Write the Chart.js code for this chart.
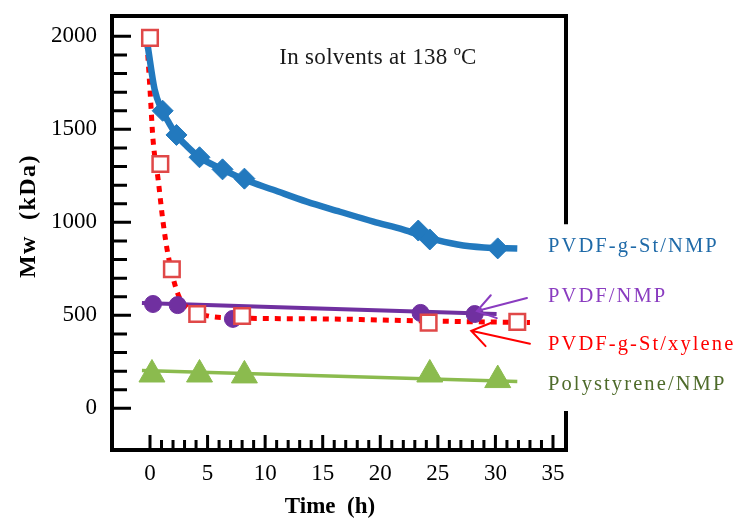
<!DOCTYPE html>
<html>
<head>
<meta charset="utf-8">
<script src="https://cdn.jsdelivr.net/npm/chart.js@4"></script>
<style>
  html, body { margin: 0; padding: 0; background: #fff; }
  #wrap { width: 734px; height: 519px; }
</style>
</head>
<body>
<div id="wrap"><canvas id="c"></canvas></div>
<script>
// ---- data -------------------------------------------------------------------

const timeTicks = [0, 5, 10, 15, 20, 25, 30, 35];
const mwTicks   = [0, 500, 1000, 1500, 2000];

// PVDF-g-St / NMP (diamonds + solid trend curve)
const stNmpTime    = [1.1, 2.3, 4.3, 6.3, 8.2, 23.3, 24.3, 30.2];
const stNmpMw      = [1600, 1470, 1350, 1285, 1235, 956, 908, 860];
const stNmpFitTime = [-0.2, 0.4, 1.0, 1.6, 2.3, 3.2, 4.3, 6.3, 8.2, 10.7, 13.6, 16.5, 19.4, 22.0, 24.3, 26.7, 29.0, 31.9];
const stNmpFitMw   = [1950, 1715, 1607, 1540, 1470, 1410, 1350, 1285, 1230, 1175, 1111, 1057, 1004, 961, 915, 881, 865, 860];

// PVDF-g-St / xylene (open squares + dotted trend curve)
const stXylTime    = [0, 0.9, 1.9, 4.1, 8.0, 24.2, 31.9];
const stXylMw      = [1992, 1314, 748, 507, 497, 461, 465];
const stXylFitTime = [-0.26, 0, 0.26, 0.7, 1.13, 1.56, 2.43, 3.47, 5.0, 8.0, 15.0, 23.7, 33.0];
const stXylFitMw   = [1965, 1714, 1447, 1234, 1004, 828, 614, 530, 497, 485, 481, 470, 461];

// PVDF / NMP (circles + linear trend)
const pvdfTime    = [0.26, 2.4, 7.2, 23.5, 28.2];
const pvdfMw      = [561, 555, 481, 513, 507];
const pvdfFitTime = [-0.7, 30.1];
const pvdfFitMw   = [566, 507];

// Polystyrene / NMP (triangles + linear trend)
const psTime    = [0.17, 4.3, 8.2, 24.3, 30.2];
const psMw      = [182, 182, 177, 182, 152];
const psFitTime = [-0.7, 31.9];
const psFitMw   = [203, 144];

const legendLabels = ['PVDF-g-St/NMP', 'PVDF/NMP', 'PVDF-g-St/xylene', 'Polystyrene/NMP'];
const note = 'In solvents at 138 ºC';

// ---- helpers ----------------------------------------------------------------

const SERIF = "'Liberation Serif', 'Times New Roman', serif";
const BLUE = '#2279be', PURPLE = '#7030a0', RED = '#ff0000', GREEN = '#8bbb4e';

function pts(xs, ys) {
  return xs.map((t, i) => ({ x: t, y: ys[i] }));
}

function drawArrow(ctx, x0, y0, x1, y1, color) {
  const ang = Math.atan2(y1 - y0, x1 - x0);
  const head = 21, spread = 0.6;
  ctx.strokeStyle = color;
  ctx.lineWidth = 2;
  ctx.lineCap = 'round';
  ctx.beginPath();
  ctx.moveTo(x0, y0); ctx.lineTo(x1, y1);
  ctx.moveTo(x1 - head * Math.cos(ang - spread), y1 - head * Math.sin(ang - spread));
  ctx.lineTo(x1, y1);
  ctx.lineTo(x1 - head * Math.cos(ang + spread), y1 - head * Math.sin(ang + spread));
  ctx.stroke();
}

// ---- frame, ticks and text --------------------------------------------------

const framePlugin = {
  id: 'frame',
  beforeDatasetsDraw(chart) {
    const { ctx, chartArea: a, scales: { x, y } } = chart;
    ctx.save();
    ctx.strokeStyle = '#000';
    ctx.lineCap = 'square';
    ctx.lineWidth = 4;
    ctx.beginPath();
    ctx.moveTo(a.right, y.getPixelForValue(1000));
    ctx.lineTo(a.right, a.top);
    ctx.lineTo(a.left, a.top);
    ctx.lineTo(a.left, a.bottom);
    ctx.lineTo(a.right, a.bottom);
    ctx.lineTo(a.right, y.getPixelForValue(-25));
    ctx.stroke();

    ctx.lineWidth = 3;
    ctx.lineCap = 'butt';
    ctx.beginPath();
    for (let v = 0; v <= 2000; v += 100) {
      const py = y.getPixelForValue(v);
      ctx.moveTo(a.left, py);
      ctx.lineTo(a.left + (v % 500 === 0 ? 19 : 15), py);
    }
    for (let t = 0; t <= 35; t++) {
      const px = x.getPixelForValue(t);
      ctx.moveTo(px, a.bottom);
      ctx.lineTo(px, a.bottom - (t % 5 === 0 ? 15 : 10));
    }
    ctx.stroke();

    ctx.fillStyle = '#000';
    ctx.font = '23px ' + SERIF;
    ctx.textAlign = 'right';
    ctx.textBaseline = 'middle';
    mwTicks.forEach(v => ctx.fillText(String(v), 97, y.getPixelForValue(v)));
    ctx.textAlign = 'center';
    timeTicks.forEach(t => ctx.fillText(String(t), x.getPixelForValue(t), 474));

    ctx.font = 'bold 23px ' + SERIF;
    ctx.fillText('Time  (h)', 330, 507);
    ctx.save();
    ctx.translate(29, 216);
    ctx.rotate(-Math.PI / 2);
    ctx.font = 'bold 24px ' + SERIF;
    ctx.letterSpacing = '1.5px';
    ctx.fillText('Mw  (kDa)', 0, 0);
    ctx.restore();
    ctx.restore();
  },
  afterDatasetsDraw(chart) {
    const { ctx, scales: { x, y } } = chart;
    ctx.save();
    drawArrow(ctx, x.getPixelForValue(32.74), y.getPixelForValue(593),
                   x.getPixelForValue(28.4),  y.getPixelForValue(523), '#8a3cc0');
    drawArrow(ctx, x.getPixelForValue(33.0),  y.getPixelForValue(347),
                   x.getPixelForValue(27.9),  y.getPixelForValue(417), RED);

    ctx.textBaseline = 'middle';
    ctx.textAlign = 'center';
    ctx.fillStyle = '#1a1a1a';
    ctx.font = '23px ' + SERIF;
    ctx.letterSpacing = '0.3px';
    ctx.fillText(note, 378, 58);

    const colors = ['#1f6aa8', '#8a3cc0', RED, '#4e6b2a'];
    const rows = [247, 297, 345, 385];
    ctx.textAlign = 'left';
    ctx.font = '20.5px ' + SERIF;
    ctx.letterSpacing = '2.1px';
    legendLabels.forEach((s, i) => {
      ctx.fillStyle = colors[i];
      ctx.fillText(s, 548, rows[i]);
    });
    ctx.restore();
  }
};

// ---- chart ------------------------------------------------------------------

new Chart(document.getElementById('c'), {
  type: 'scatter',
  data: {
    datasets: [
      { data: pts(stNmpTime, stNmpMw), pointStyle: 'rectRot', radius: 10.5,
        backgroundColor: BLUE, borderColor: BLUE, borderWidth: 1, order: 0 },
      { data: pts(stXylTime, stXylMw), pointStyle: 'rect', radius: 11,
        backgroundColor: '#fff', borderColor: '#e04848', borderWidth: 2.5, order: 0 },
      { data: pts(pvdfTime, pvdfMw), pointStyle: 'circle', radius: 8.5,
        backgroundColor: PURPLE, borderColor: PURPLE, borderWidth: 1, order: 0 },
      { data: pts(psTime, psMw), pointStyle: 'triangle', radius: 15,
        backgroundColor: GREEN, borderColor: GREEN, borderWidth: 1, order: 0 },

      { data: pts(stNmpFitTime, stNmpFitMw), showLine: true, pointRadius: 0,
        borderColor: BLUE, borderWidth: 6.5, cubicInterpolationMode: 'monotone', order: 1 },
      { data: pts(stXylFitTime, stXylFitMw), showLine: true, pointRadius: 0,
        borderColor: RED, borderWidth: 5, borderDash: [6, 6], borderCapStyle: 'butt',
        cubicInterpolationMode: 'monotone', order: 1 },
      { data: pts(pvdfFitTime, pvdfFitMw), showLine: true, pointRadius: 0,
        borderColor: PURPLE, borderWidth: 4, order: 1 },
      { data: pts(psFitTime, psFitMw), showLine: true, pointRadius: 0,
        borderColor: GREEN, borderWidth: 3.5, order: 1 }
    ]
  },
  options: {
    responsive: true,
    maintainAspectRatio: false,
    animation: false,
    events: [],
    layout: { padding: { left: 112, top: 13, right: 168, bottom: 69 } },
    scales: {
      x: { type: 'linear', min: -3.3, max: 36.13, display: false },
      y: { type: 'linear', min: -224, max: 2109.5, display: false }
    },
    plugins: { legend: { display: false }, tooltip: { enabled: false } }
  },
  plugins: [framePlugin]
});
</script>
</body>
</html>
